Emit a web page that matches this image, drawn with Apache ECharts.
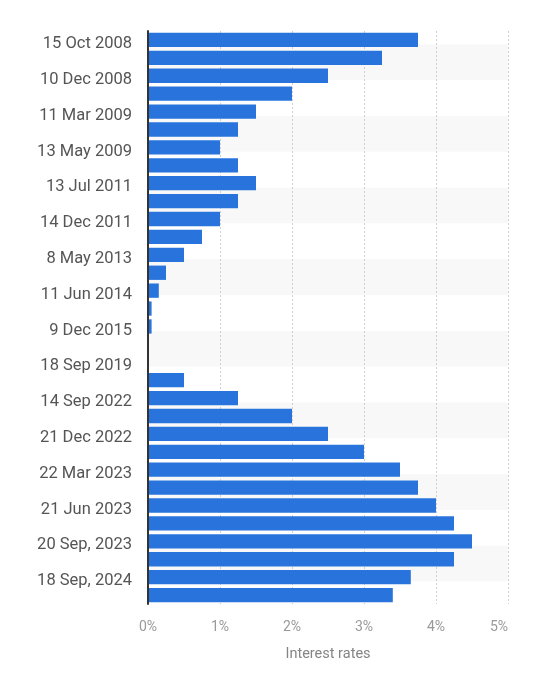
<!DOCTYPE html>
<html lang="en">
<head>
    <meta charset="UTF-8">
    <title>Interest rates</title>
    <script src="https://cdn.jsdelivr.net/npm/echarts@6/dist/echarts.min.js"></script>
    <style>
        html, body { margin: 0; padding: 0; background: #fff; }
        #main { width: 537px; height: 680px; }
    </style>
</head>
<body>
    <div id="main"></div>
    <script type="text/javascript">
        // decision dates (only every other one is labelled on the axis)
        var dates = [
            '15 Oct 2008', '12 Nov 2008', '10 Dec 2008', '21 Jan 2009',
            '11 Mar 2009', '8 Apr 2009', '13 May 2009', '13 Apr 2011',
            '13 Jul 2011', '9 Nov 2011', '14 Dec 2011', '11 Jul 2012',
            '8 May 2013', '13 Nov 2013', '11 Jun 2014', '10 Sep 2014',
            '9 Dec 2015', '16 Mar 2016', '18 Sep 2019', '27 Jul 2022',
            '14 Sep 2022', '2 Nov 2022', '21 Dec 2022', '8 Feb 2023',
            '22 Mar 2023', '10 May 2023', '21 Jun 2023', '2 Aug 2023',
            '20 Sep, 2023', '19 Jun 2024', '18 Sep, 2024', '23 Oct 2024'
        ];
        // interest rate in %
        var rates = [
            3.75, 3.25, 2.5, 2.0,
            1.5, 1.25, 1.0, 1.25,
            1.5, 1.25, 1.0, 0.75,
            0.5, 0.25, 0.15, 0.05,
            0.05, 0, 0, 0.5,
            1.25, 2.0, 2.5, 3.0,
            3.5, 3.75, 4.0, 4.25,
            4.5, 4.25, 3.65, 3.4
        ];
        var xTicks = [0, 1, 2, 3, 4, 5];

        // faint stripes every two rows (quarter-row steps on a hidden axis)
        var W = '#ffffff', G = '#f8f8f8';
        var stripes = [W, W, W, G, G, G, G, G, G, G, G, W, W, W, W, W];

        var myChart = echarts.init(document.getElementById('main'));
        var option = {
            animation: false,
            textStyle: { fontFamily: 'Roboto' },
            grid: { left: 148, right: 29, top: 31, bottom: 76 },
            xAxis: {
                type: 'value',
                min: xTicks[0],
                max: xTicks[xTicks.length - 1],
                interval: 1,
                name: 'Interest rates',
                nameLocation: 'middle',
                nameGap: 43,
                nameTextStyle: { color: '#858585', fontSize: 14.5 },
                axisLine: { show: false },
                axisTick: { show: false },
                axisLabel: {
                    color: '#999',
                    fontSize: 14,
                    margin: 16,
                    alignMaxLabel: 'right',
                    formatter: '{value}%'
                },
                splitLine: {
                    show: true,
                    lineStyle: { color: '#cfcfcf', type: [2, 2], width: 1 }
                }
            },
            yAxis: [
                {
                    type: 'category',
                    data: dates,
                    inverse: true,
                    axisLine: { show: true, lineStyle: { color: '#333', width: 2 } },
                    axisTick: { show: false },
                    axisLabel: {
                        interval: 1,
                        margin: 16,
                        formatter: '{d|{value}}',
                        rich: {
                            d: { color: '#555', fontSize: 16.5, fontFamily: 'Roboto', padding: [8, 0, 0, 0] }
                        }
                    },
                    splitLine: { show: false },
                    z: 3
                },
                {
                    type: 'value',
                    min: 0,
                    max: dates.length,
                    interval: 0.25,
                    inverse: true,
                    show: true,
                    axisLine: { show: false },
                    axisTick: { show: false },
                    axisLabel: { show: false },
                    splitLine: { show: false },
                    splitArea: { show: true, areaStyle: { color: stripes } }
                }
            ],
            series: [
                {
                    name: 'Interest rate',
                    type: 'bar',
                    data: rates,
                    barWidth: '80%',
                    itemStyle: { color: '#2874dc' }
                }
            ]
        };
        myChart.setOption(option);
    </script>
</body>
</html>
